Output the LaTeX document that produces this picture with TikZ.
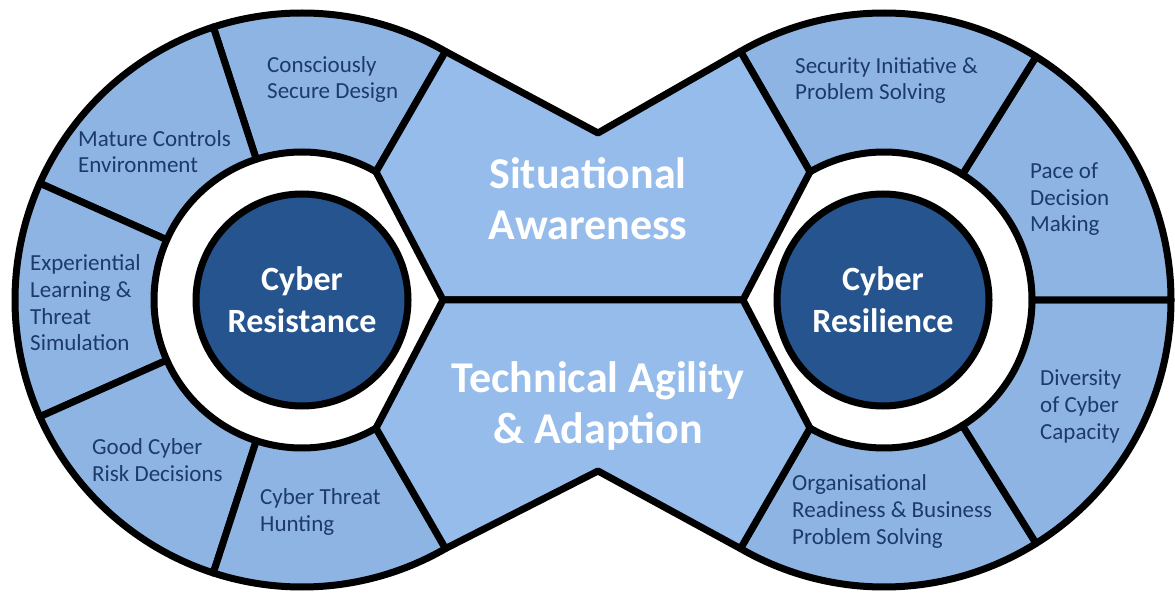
\documentclass[tikz,border=0pt]{standalone}
\usepackage{fontspec}
\setmainfont{Carlito}
\usetikzlibrary{calc}

\definecolor{segblue}{HTML}{8EB4E3}
\definecolor{midblue}{HTML}{96BCEB}
\definecolor{coreblue}{HTML}{25548F}
\definecolor{labelnavy}{HTML}{1C3A6A}

\begin{document}
\begin{tikzpicture}[x=1pt,y=1pt,
  outline/.style={draw=black, line width=7pt, line join=round},
  segment/.style={outline, fill=segblue},
  band/.style={outline, fill=midblue},
  core/.style={circle, draw=black, line width=7pt, fill=coreblue,
    minimum size=212pt, inner sep=0pt, align=center, text=white,
    font=\bfseries\fontsize{34}{42}\selectfont},
  % labels are placed by the baseline of their last line
  seglabel/.style={anchor=base west, align=left, inner sep=0pt,
    text=labelnavy, font=\fontsize{23}{26.8}\selectfont},
  bandlabel/.style={anchor=base, align=center, inner sep=0pt, text=white,
    font=\bfseries\fontsize{44}{51}\selectfont},
]
\useasboundingbox (0,-294) rectangle (1175,300);

% centres of the two wheels and the ring radii
\coordinate (L) at (302,0);
\coordinate (R) at (884,0);
\def\rin{148}
\def\rout{287}

% tips of the central bands and the two notches
\coordinate (ltip) at (443,0);
\coordinate (rtip) at (743,0);
\coordinate (vtop) at (598,167);
\coordinate (vbot) at (598,-171);

% left wheel: five ring segments
\foreach \a/\b in {60/108,108/156,156/204,204/252,252/300}
  \draw[segment] ($(L)+(\a:\rin)$) arc[start angle=\a, end angle=\b, radius=\rin]
    -- ($(L)+(\b:\rout)$) arc[start angle=\b, end angle=\a, radius=\rout] -- cycle;

% right wheel: four ring segments
\foreach \a/\b in {-120/-58,-58/0,0/58,58/120}
  \draw[segment] ($(R)+(\a:\rin)$) arc[start angle=\a, end angle=\b, radius=\rin]
    -- ($(R)+(\b:\rout)$) arc[start angle=\b, end angle=\a, radius=\rout] -- cycle;

% central bands joining the wheels
\draw[band] (ltip) -- ($(L)+(60:\rin)$) -- ($(L)+(60:\rout)$) -- (vtop)
  -- ($(R)+(120:\rout)$) -- ($(R)+(120:\rin)$) -- (rtip) -- cycle;
\draw[band] (ltip) -- ($(L)+(-60:\rin)$) -- ($(L)+(-60:\rout)$) -- (vbot)
  -- ($(R)+(-120:\rout)$) -- ($(R)+(-120:\rin)$) -- (rtip) -- cycle;

% hubs
\node[core] (resist) at (302,0) {Cyber\\Resistance};
\node[core] (resil) at (883,0) {Cyber\\Resilience};

% band titles
\node[bandlabel] (aware) at (588,60.5) {Situational\\Awareness};
\node[bandlabel] (agility) at (598,-143) {Technical Agility\\\& Adaption};

% left wheel labels
\node[seglabel] (design) at (267,201) {Consciously\\Secure Design};
\node[seglabel] (controls) at (78,127) {Mature Controls\\Environment};
\node[seglabel] (learning) at (30,-51) {Experiential\\Learning \&\\Threat\\Simulation};
\node[seglabel] (decisions) at (92,-181) {Good Cyber\\Risk Decisions};
\node[seglabel] (hunting) at (260,-231) {Cyber Threat\\Hunting};

% right wheel labels
\node[seglabel] (initiative) at (795,200) {Security Initiative \&\\Problem Solving};
\node[seglabel] (pace) at (1030,68) {Pace of\\Decision\\Making};
\node[seglabel] (diversity) at (1040,-139) {Diversity\\of Cyber\\Capacity};
\node[seglabel] (readiness) at (792,-244) {Organisational\\Readiness \& Business\\Problem Solving};
\end{tikzpicture}
\end{document}
